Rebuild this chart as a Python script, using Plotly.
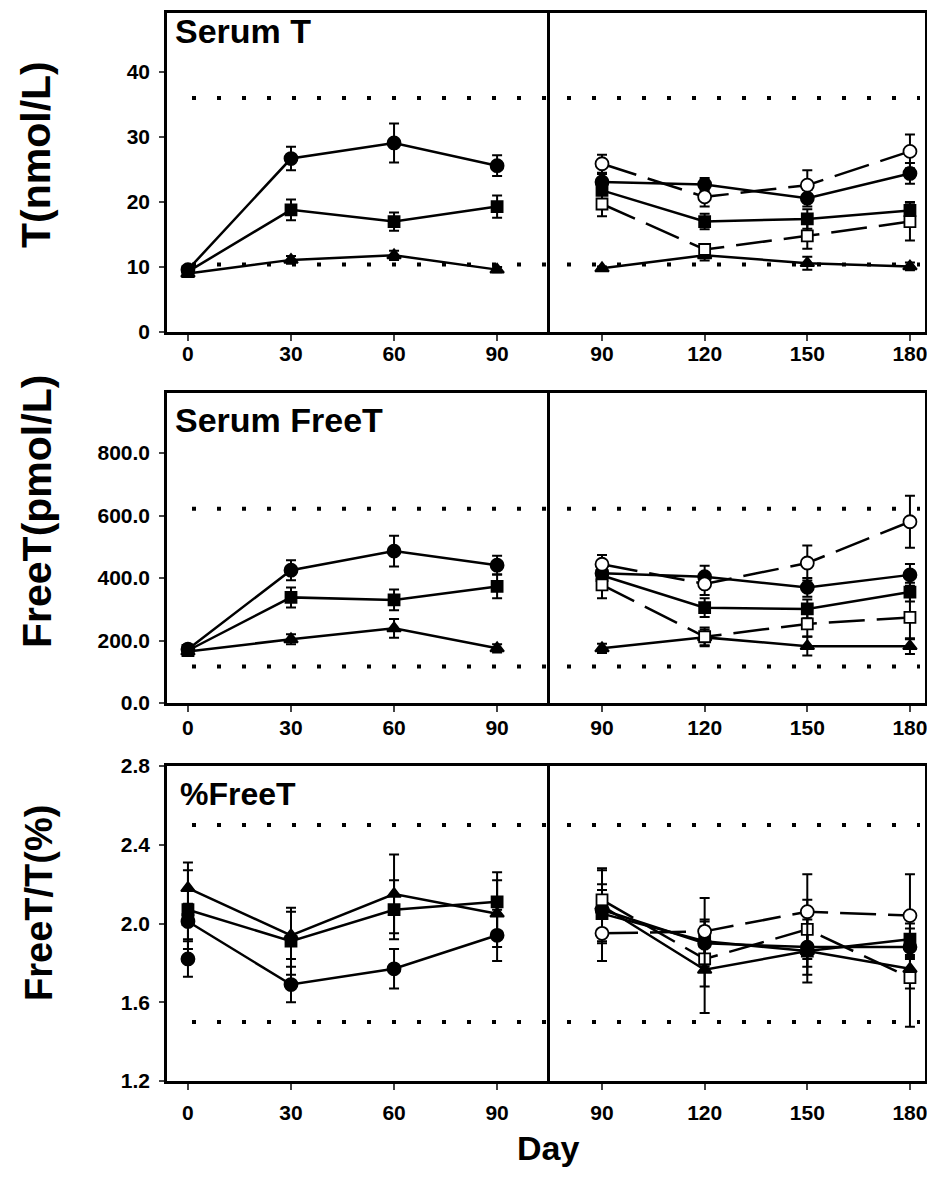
import plotly.graph_objects as go

W, H = 935, 1179          # browser window
OFF = 8                   # page body margin
FW, FH = W - 2 * OFF, H - 2 * OFF   # figure size (avoids scrollbars)

# ---------------- data ----------------
days_left = [0, 30, 60, 90]
days_right = [90, 120, 150, 180]
x_ticks_left = [0, 30, 60, 90]
x_ticks_right = [90, 120, 150, 180]

# Serum T (nmol/L)
t_l_circle = [9.6, 26.7, 29.1, 25.6]
t_l_circle_err = [0.6, 1.8, 3.0, 1.6]
t_l_square = [9.3, 18.8, 17.0, 19.3]
t_l_square_err = [0.6, 1.6, 1.4, 1.7]
t_l_tri = [9.0, 11.1, 11.8, 9.6]
t_l_tri_err = [0.5, 0.6, 0.7, 0.4]

t_r_ocircle = [25.9, 20.8, 22.6, 27.8]
t_r_ocircle_err = [1.4, 1.5, 2.3, 2.6]
t_r_circle = [23.1, 22.7, 20.6, 24.4]
t_r_circle_err = [1.2, 1.0, 1.3, 1.6]
t_r_square = [21.8, 17.0, 17.4, 18.7]
t_r_square_err = [1.5, 1.2, 1.5, 1.3]
t_r_osquare = [19.7, 12.7, 14.8, 17.0]
t_r_osquare_err = [1.9, 0.8, 2.0, 2.9]
t_r_tri = [9.8, 11.8, 10.6, 10.1]
t_r_tri_err = [0.3, 0.8, 1.0, 0.6]

t_ticks = [0, 10, 20, 30, 40]
t_ref = [36.0, 10.4]

# Serum FreeT (pmol/L)
f_l_circle = [172, 425, 486, 441]
f_l_circle_err = [15, 32, 49, 30]
f_l_square = [168, 338, 330, 373]
f_l_square_err = [15, 32, 33, 38]
f_l_tri = [165, 204, 239, 175]
f_l_tri_err = [12, 16, 30, 13]

f_r_ocircle = [444, 381, 448, 580]
f_r_ocircle_err = [30, 35, 56, 83]
f_r_circle = [415, 404, 370, 410]
f_r_circle_err = [30, 35, 30, 35]
f_r_square = [408, 305, 301, 355]
f_r_square_err = [30, 30, 30, 30]
f_r_osquare = [378, 212, 253, 274]
f_r_osquare_err = [43, 30, 40, 70]
f_r_tri = [175, 210, 182, 182]
f_r_tri_err = [15, 25, 30, 25]

f_ticks = [0, 200, 400, 600, 800]
f_ref = [622, 117]

# %FreeT (FreeT/T %)
p_l_circle = [2.01, 1.69, 1.77, 1.94]
p_l_circle_err = [0.09, 0.09, 0.10, 0.13]
p_l_square = [2.07, 1.91, 2.07, 2.11]
p_l_square_err = [0.20, 0.17, 0.15, 0.15]
p_l_tri = [2.18, 1.94, 2.15, 2.05]
p_l_tri_err = [0.13, 0.12, 0.20, 0.17]
p_l_day0_extra_circle = [1.82]
p_l_day0_extra_circle_err = [0.09]
p_l_day0_extra_square = [2.02]

p_r_ocircle = [1.95, 1.96, 2.06, 2.04]
p_r_ocircle_err = [0.14, 0.17, 0.19, 0.21]
p_r_circle = [2.07, 1.90, 1.88, 1.88]
p_r_circle_err = [0.10, 0.12, 0.10, 0.06]
p_r_square = [2.05, 1.91, 1.86, 1.92]
p_r_square_err = [0.15, 0.10, 0.16, 0.08]
p_r_osquare = [2.12, 1.82, 1.97, 1.725]
p_r_osquare_err = [0.16, 0.14, 0.15, 0.25]
p_r_tri = [2.09, 1.765, 1.86, 1.77]
p_r_tri_err = [0.18, 0.22, 0.12, 0.10]

p_ticks = [1.2, 1.6, 2.0, 2.4, 2.8]
p_ref = [2.5, 1.5]

# ---------------- styles ----------------
FONT = "Liberation Sans, Arial, sans-serif"
MARK = {
    "circle": dict(symbol="circle", size=13),
    "square": dict(symbol="square", size=11),
    "tri": dict(symbol="triangle-up", size=12),
}
DASH = "36px,12px"

fig = go.Figure()


def add(xs, ys, err, kind, filled, dashed, xa, ya, line=True):
    m = dict(MARK[kind])
    m.update(color="black" if filled else "white",
             line=dict(color="black", width=1.8))
    fig.add_trace(go.Scatter(
        x=xs, y=ys,
        mode="lines+markers" if line else "markers",
        line=dict(color="black", width=2.5, dash=DASH if dashed else "solid"),
        marker=m,
        error_y=dict(type="data", array=err, visible=err is not None,
                     color="black", thickness=2, width=5),
        xaxis=xa, yaxis=ya, showlegend=False, cliponaxis=False,
    ))


# row 1
add(days_left, t_l_tri, t_l_tri_err, "tri", True, False, "x", "y")
add(days_left, t_l_square, t_l_square_err, "square", True, False, "x", "y")
add(days_left, t_l_circle, t_l_circle_err, "circle", True, False, "x", "y")
add(days_right, t_r_tri, t_r_tri_err, "tri", True, False, "x2", "y2")
add(days_right, t_r_square, t_r_square_err, "square", True, False, "x2", "y2")
add(days_right, t_r_circle, t_r_circle_err, "circle", True, False, "x2", "y2")
add(days_right, t_r_osquare, t_r_osquare_err, "square", False, True, "x2", "y2")
add(days_right, t_r_ocircle, t_r_ocircle_err, "circle", False, True, "x2", "y2")
# row 2
add(days_left, f_l_tri, f_l_tri_err, "tri", True, False, "x3", "y3")
add(days_left, f_l_square, f_l_square_err, "square", True, False, "x3", "y3")
add(days_left, f_l_circle, f_l_circle_err, "circle", True, False, "x3", "y3")
add(days_right, f_r_tri, f_r_tri_err, "tri", True, False, "x4", "y4")
add(days_right, f_r_square, f_r_square_err, "square", True, False, "x4", "y4")
add(days_right, f_r_circle, f_r_circle_err, "circle", True, False, "x4", "y4")
add(days_right, f_r_osquare, f_r_osquare_err, "square", False, True, "x4", "y4")
add(days_right, f_r_ocircle, f_r_ocircle_err, "circle", False, True, "x4", "y4")
# row 3
add(days_left, p_l_tri, p_l_tri_err, "tri", True, False, "x5", "y5")
add(days_left, p_l_square, p_l_square_err, "square", True, False, "x5", "y5")
add(days_left, p_l_circle, p_l_circle_err, "circle", True, False, "x5", "y5")
add(days_left[:1], p_l_day0_extra_circle, p_l_day0_extra_circle_err, "circle", True, False, "x5", "y5", line=False)
add(days_left[:1], p_l_day0_extra_square, None, "square", True, False, "x5", "y5", line=False)
add(days_right, p_r_tri, p_r_tri_err, "tri", True, False, "x6", "y6")
add(days_right, p_r_square, p_r_square_err, "square", True, False, "x6", "y6")
add(days_right, p_r_circle, p_r_circle_err, "circle", True, False, "x6", "y6")
add(days_right, p_r_osquare, p_r_osquare_err, "square", False, True, "x6", "y6")
add(days_right, p_r_ocircle, p_r_ocircle_err, "circle", False, True, "x6", "y6")


# ---------------- layout ----------------
def px_x(p):
    return min(1.0, max(0.0, (p - OFF) / FW))


def px_y(p):
    return min(1.0, max(0.0, 1 - (p - OFF) / FH))


XL = [px_x(167), px_x(550)]
XR = [px_x(550), px_x(925)]
rows = [
    dict(dom=[px_y(332), px_y(13)], rng=[0, 49.1], ticks=t_ticks, fmt="d", ref=t_ref, stand=-5),
    dict(dom=[px_y(703), px_y(393)], rng=[0, 992], ticks=f_ticks, fmt=".1f", ref=f_ref, stand=-2),
    dict(dom=[px_y(1081), px_y(766)], rng=[1.2, 2.8], ticks=p_ticks, fmt=".1f", ref=p_ref, stand=5),
]

tickfont = dict(family=FONT, size=21, color="black", weight="bold")
base = dict(showline=True, linecolor="black", linewidth=2.5,
            showgrid=False, zeroline=False)

lay = {}
shapes = []
for i, r in enumerate(rows):
    a = 2 * i + 1
    b = 2 * i + 2
    xa = "xaxis" if a == 1 else f"xaxis{a}"
    xb = f"xaxis{b}"
    ya = "yaxis" if a == 1 else f"yaxis{a}"
    yb = f"yaxis{b}"
    ya_id = "y" if a == 1 else f"y{a}"
    lay[xa] = dict(domain=XL, range=[-6.1, 105.4], anchor=ya_id, mirror=True,
                   tickvals=x_ticks_left, ticks="outside", ticklen=6, tickwidth=1.5,
                   tickfont=tickfont, ticklabelstandoff=r["stand"],
                   ticklabeloverflow="allow", **base)
    lay[xb] = dict(domain=XR, range=[74.8, 184.4], anchor=f"y{b}", mirror=True,
                   tickvals=x_ticks_right, ticks="outside", ticklen=6, tickwidth=1.5,
                   tickfont=tickfont, ticklabelstandoff=r["stand"],
                   ticklabeloverflow="allow", **base)
    lay[ya] = dict(domain=r["dom"], range=r["rng"], anchor="x" if a == 1 else f"x{a}",
                   mirror=False, tickvals=r["ticks"], tickformat=r["fmt"], ticks="outside",
                   ticklen=5, tickwidth=1.5, tickfont=tickfont,
                   ticklabelstandoff=5, ticklabeloverflow="allow", **base)
    lay[yb] = dict(domain=r["dom"], range=r["rng"], anchor=f"x{b}", mirror=True,
                   showticklabels=False, ticks="", **base)
    for v in r["ref"]:
        shapes.append(dict(type="line", xref="paper", yref=ya_id,
                           x0=px_x(192), x1=px_x(920), y0=v, y1=v,
                           line=dict(color="black", width=4, dash="4px,21px")))


def ann(text, x, y, size, angle=0, xanchor="left"):
    return dict(text=f"<b>{text}</b>", x=px_x(x), y=px_y(y), xref="paper", yref="paper",
                xanchor=xanchor, yanchor="middle", showarrow=False, textangle=angle,
                font=dict(family=FONT, size=size, color="black"))


annotations = [
    ann("Serum T", 173, 31, 34),
    ann("Serum FreeT", 173, 420, 34),
    ann("%FreeT", 178, 794, 32),
    ann("T(nmol/L)", 36, 155, 41, -90, "center"),
    ann("FreeT(pmol/L)", 37, 512, 41, -90, "center"),
    ann("FreeT/T(%)", 39, 903, 38, -90, "center"),
    ann("Day", 548, 1148, 34, 0, "center"),
]

fig.update_layout(
    width=FW, height=FH, template="none",
    margin=dict(l=0, r=0, t=0, b=0, autoexpand=False),
    paper_bgcolor="white", plot_bgcolor="white",
    showlegend=False, shapes=shapes, annotations=annotations,
    font=dict(family=FONT, color="black"),
    **lay,
)

fig.write_html("out.html")
